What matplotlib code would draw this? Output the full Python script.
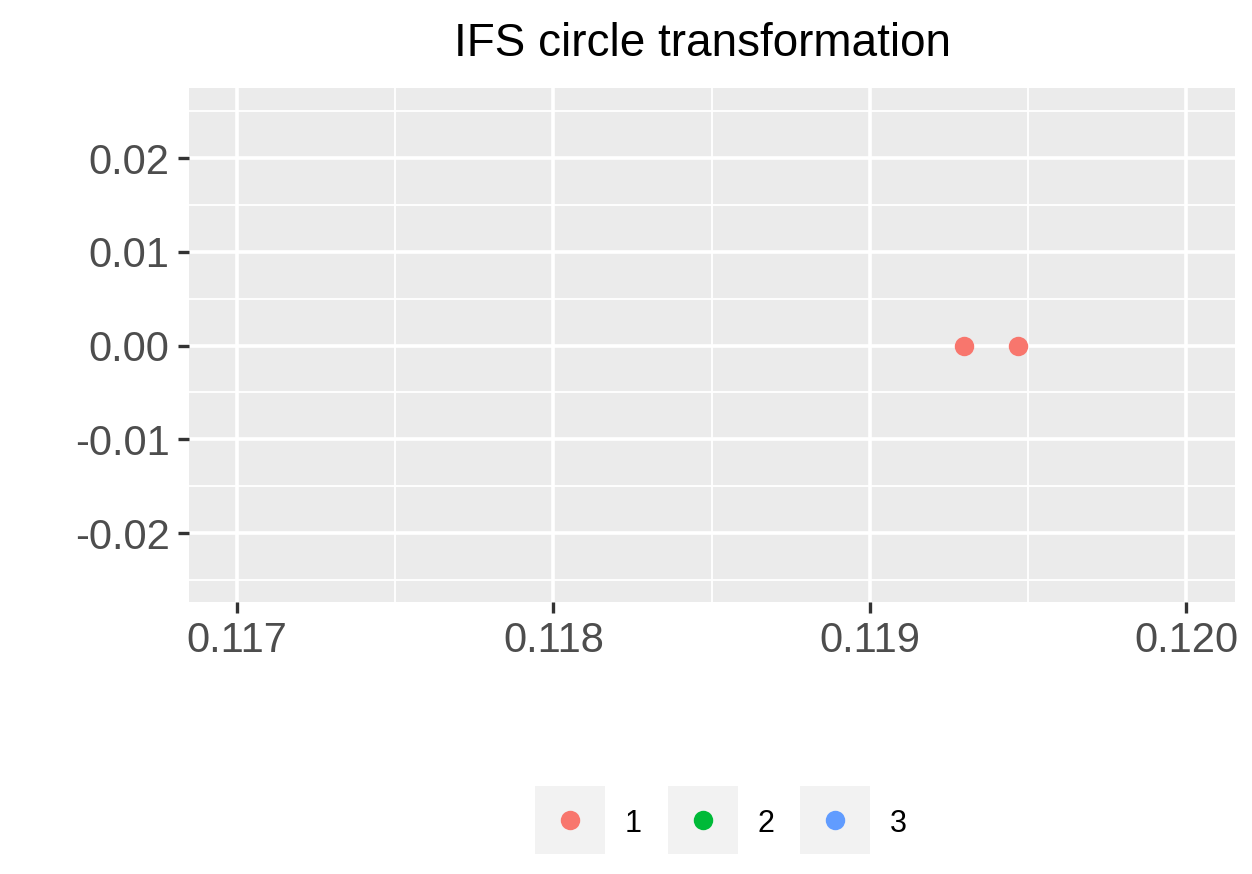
import matplotlib
matplotlib.use("Agg")
import matplotlib.pyplot as plt
from matplotlib.patches import Rectangle
from matplotlib.lines import Line2D

plt.rcParams['font.family'] = ['Liberation Sans', 'DejaVu Sans']

# data
groups = ['1', '2', '3']
colors = ['#F8766D', '#00BA38', '#619CFF']
x1 = [0.119297, 0.119468]
y1 = [0.0, 0.0]
x2 = []
y2 = []
x3 = []
y3 = []

xticks = [0.117, 0.118, 0.119, 0.120]
xticklabels = ['0.117', '0.118', '0.119', '0.120']
yticks = [-0.02, -0.01, 0.0, 0.01, 0.02]
yticklabels = ['-0.02', '-0.01', '0.00', '0.01', '0.02']


class KeyHandler:
    # grey ggplot-style key box with a centred dot
    def __init__(self, color, shift=4.5):
        self.color = color
        self.shift = shift

    def legend_artist(self, legend, orig_handle, fontsize, handlebox):
        x0, y0 = handlebox.xdescent, handlebox.ydescent
        w, h = handlebox.width, handlebox.height
        tr = handlebox.get_transform()
        rect = Rectangle((-x0, -y0 - self.shift), w, h + y0, facecolor='#F2F2F2',
                         edgecolor='none', transform=tr)
        dot = Line2D([w / 2 - x0], [(h - y0) / 2 - self.shift], marker='o',
                     linestyle='none', markersize=14, markerfacecolor=self.color,
                     markeredgewidth=0, transform=tr)
        handlebox.add_artist(rect)
        handlebox.add_artist(dot)
        return rect


fig = plt.figure(figsize=(12.52, 8.74), dpi=100)
ax = fig.add_axes([0.151, 0.3112, 0.8355, 0.5881])
ax.set_facecolor('#EBEBEB')

for xs, ys, c in zip([x1, x2, x3], [y1, y2, y3], colors):
    ax.scatter(xs, ys, s=14**2, color=c, linewidths=0, zorder=3)

ax.set_xticks(xticks)
ax.set_xticklabels(xticklabels)
ax.set_yticks(yticks)
ax.set_yticklabels(yticklabels)
ax.set_xticks([0.1165, 0.1175, 0.1185, 0.1195], minor=True)
ax.set_yticks([-0.025, -0.015, -0.005, 0.005, 0.015, 0.025], minor=True)
ax.set_xlim(0.116848, 0.120155)
ax.set_ylim(-0.02736, 0.02747)

ax.grid(which='major', color='white', linewidth=2.6)
ax.grid(which='minor', color='white', linewidth=1.3)
ax.set_axisbelow(True)
for s in ax.spines.values():
    s.set_visible(False)
ax.tick_params(which='major', length=8, width=2.4, color='#333333',
               labelsize=30, labelcolor='#4D4D4D', pad=6)
ax.tick_params(which='minor', length=0)

ax.set_title('IFS circle transformation', fontsize=33, pad=23, x=0.4904)

handles = [Line2D([], []) for c in colors]
hmap = {h: KeyHandler(c) for h, c in zip(handles, colors)}
fig.legend(handles, groups, handler_map=hmap, loc='center',
           bbox_to_anchor=(721/1252, 1 - 822/874),
           ncol=3, frameon=False, fontsize=22, handlelength=2.29, handleheight=2.22,
           handletextpad=0.65, columnspacing=0.85, borderpad=0)

fig.savefig('out.png', dpi=100)
